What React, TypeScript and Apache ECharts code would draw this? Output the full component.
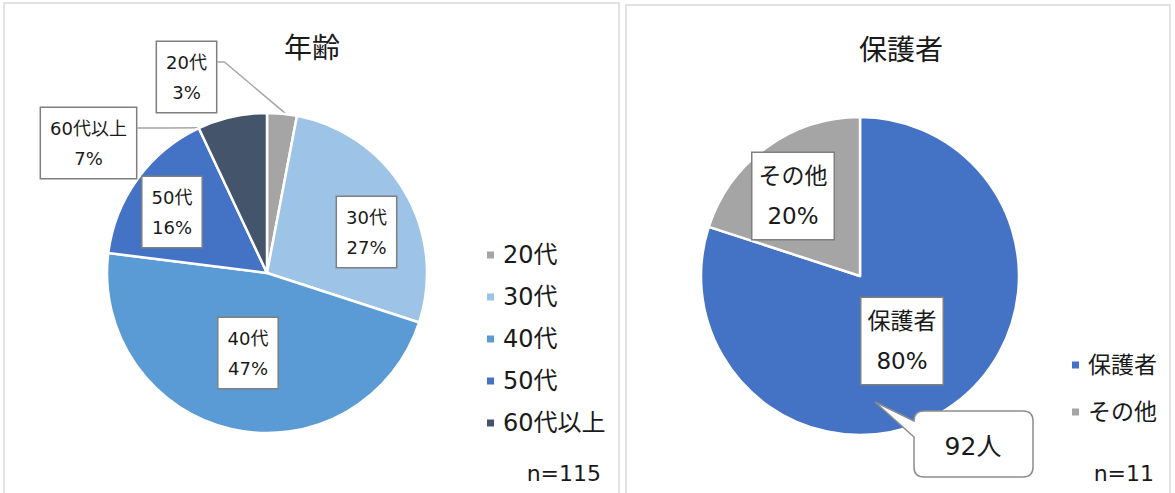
import React, { useEffect, useRef } from "react";
import * as echarts from "echarts";

// ---------- data ----------
const ageCategories = ["20代", "30代", "40代", "50代", "60代以上"];
const agePercents = [3, 27, 47, 16, 7];
const guardianCategories = ["保護者", "その他"];
const guardianPercents = [80, 20];

const ageTitle = "年齢";
const guardianTitle = "保護者";
const ageSampleText = "n=115";
const guardianSampleText = "n=11";
const calloutText = "92人";

// ---------- styles / layout ----------
const ageColors = ["#a5a5a5", "#9dc3e6", "#5b9bd5", "#4472c4", "#44546a"];
const guardianColors = ["#4472c4", "#a5a5a5"];
const FONT = "'DejaVu Sans', 'Noto Sans CJK JP', sans-serif";
const TEXT = "#1a1a1a";
const AGE_CENTER = [267, 273];
const AGE_R = 160;
const GU_CENTER = [860, 276];
const GU_R = 159;
const ageLabelPos = [
  [186.5, 77],
  [366.5, 232],
  [248, 353],
  [172, 212],
  [88.5, 143],
];
const ageOutside = [true, false, false, false, true];
const guardianLabelPos = [
  [902, 341],
  [793, 196],
];

const CALLOUT_D =
  "M49 9 L148 9 Q158 9 158 19 L158 65 Q158 75 148 75 L49 75 Q39 75 39 65 L39 35 L0 0 L39 19 Q39 9 49 9 Z";
echarts.graphic.registerShape("callout", echarts.graphic.extendPath(CALLOUT_D, {}) as any);

function polar(c: number[], r: number, deg: number): number[] {
  const a = (deg * Math.PI) / 180;
  return [c[0] + r * Math.sin(a), c[1] - r * Math.cos(a)];
}

function sliceAngles(values: number[]): number[][] {
  const total = values.reduce((a, b) => a + b, 0);
  let acc = 0;
  return values.map((v) => {
    const s = (acc / total) * 360;
    acc += v;
    return [s, (acc / total) * 360];
  });
}

export default function App() {
  const ref = useRef<HTMLDivElement>(null);

  useEffect(() => {
    if (!ref.current) return;
    const chart = echarts.init(ref.current, undefined, { renderer: "svg" });
    const ageAngles = sliceAngles(agePercents);

    const labelBase = {
      show: true,
      formatter: (p: any) => `${p.name}\n${Math.round(p.percent)}%`,
      fontFamily: FONT,
      color: TEXT,
      backgroundColor: "#ffffff",
      borderColor: "#7f7f7f",
      borderWidth: 1.5,
    };

    const option: any = {
      animation: false,
      backgroundColor: "#ffffff",
      legend: [
        {
          orient: "vertical",
          left: 485,
          top: 243,
          padding: 0,
          itemWidth: 9,
          itemHeight: 9,
          itemGap: 18,
          icon: "rect",
          selectedMode: false,
          data: ageCategories,
          textStyle: {
            fontFamily: FONT,
            fontSize: 24,
            lineHeight: 24,
            color: TEXT,
            padding: [0, 0, 0, 3],
          },
        },
        {
          orient: "vertical",
          left: 1070,
          top: 353,
          padding: 0,
          itemWidth: 9,
          itemHeight: 9,
          itemGap: 23,
          icon: "rect",
          selectedMode: false,
          data: guardianCategories,
          textStyle: {
            fontFamily: FONT,
            fontSize: 23,
            lineHeight: 24,
            color: TEXT,
            padding: [0, 0, 0, 3],
          },
        },
      ],
      series: [
        {
          type: "pie",
          silent: true,
          center: AGE_CENTER,
          radius: AGE_R,
          startAngle: 90,
          clockwise: true,
          avoidLabelOverlap: false,
          itemStyle: { borderColor: "#ffffff", borderWidth: 2.5 },
          label: {
            ...labelBase,
            fontSize: 18,
            lineHeight: 30,
            padding: [5, 9, 5, 9],
          },
          labelLine: { show: false },
          labelLayout: (p: any) => {
            const i = p.dataIndex;
            const [x, y] = ageLabelPos[i];
            const out: any = { x, y, align: "center", verticalAlign: "middle" };
            if (ageOutside[i]) {
              const startX = x + p.labelRect.width / 2;
              const lineY = y - 15;
              const [s, e] = ageAngles[i];
              if (i === 0) {
                const tip = polar(AGE_CENTER, AGE_R, (s + e) / 2 + 1.5);
                out.labelLinePoints = [[startX, lineY], [startX + 7, lineY], tip];
              } else {
                const tip = polar(AGE_CENTER, AGE_R, s + 0.3);
                out.labelLinePoints = [[startX, lineY], [(startX + tip[0]) / 2, lineY], tip];
              }
            }
            return out;
          },
          data: ageCategories.map((name, i) => ({
            name,
            value: agePercents[i],
            itemStyle: { color: ageColors[i] },
            label: { position: ageOutside[i] ? "outside" : "inside" },
            labelLine: ageOutside[i]
              ? { show: true, length: 10, length2: 10, lineStyle: { color: "#a6a6a6", width: 1.5 } }
              : { show: false },
          })),
        },
        {
          type: "pie",
          silent: true,
          center: GU_CENTER,
          radius: GU_R,
          startAngle: 90,
          clockwise: true,
          avoidLabelOverlap: false,
          itemStyle: { borderColor: "#ffffff", borderWidth: 2.5 },
          label: {
            ...labelBase,
            position: "inside",
            fontSize: 23,
            lineHeight: 40,
            padding: [3, 6, 3, 6],
          },
          labelLine: { show: false },
          labelLayout: (p: any) => {
            const [x, y] = guardianLabelPos[p.dataIndex];
            return { x, y, align: "center", verticalAlign: "middle" };
          },
          data: guardianCategories.map((name, i) => ({
            name,
            value: guardianPercents[i],
            itemStyle: { color: guardianColors[i] },
          })),
        },
      ],
      graphic: [
        {
          type: "rect",
          z: 0,
          shape: { x: 4, y: 3, width: 615, height: 510 },
          style: { fill: "none", stroke: "#d9d9d9", lineWidth: 1.5 },
        },
        {
          type: "rect",
          z: 0,
          shape: { x: 626, y: 5, width: 544, height: 510 },
          style: { fill: "none", stroke: "#d9d9d9", lineWidth: 1.5 },
        },
        {
          type: "text",
          x: 312,
          y: 48,
          style: {
            text: ageTitle,
            fontFamily: FONT,
            fontSize: 28,
            fill: TEXT,
            align: "center",
            verticalAlign: "middle",
          },
        },
        {
          type: "text",
          x: 901,
          y: 50,
          style: {
            text: guardianTitle,
            fontFamily: FONT,
            fontSize: 28,
            fill: TEXT,
            align: "center",
            verticalAlign: "middle",
          },
        },
        {
          type: "text",
          x: 601,
          y: 473,
          style: {
            text: ageSampleText,
            fontFamily: FONT,
            fontSize: 22,
            fill: TEXT,
            align: "right",
            verticalAlign: "middle",
          },
        },
        {
          type: "text",
          x: 1154,
          y: 473,
          style: {
            text: guardianSampleText,
            fontFamily: FONT,
            fontSize: 22,
            fill: TEXT,
            align: "right",
            verticalAlign: "middle",
          },
        },
        {
          type: "callout",
          z: 100,
          x: 875,
          y: 402,
          style: { fill: "#ffffff", stroke: "#8c8c8c", lineWidth: 1.5 },
        },
        {
          type: "text",
          z: 101,
          x: 973,
          y: 446,
          style: {
            text: calloutText,
            fontFamily: FONT,
            fontSize: 25,
            fill: TEXT,
            align: "center",
            verticalAlign: "middle",
          },
        },
      ],
    };

    chart.setOption(option);
    return () => chart.dispose();
  }, []);

  return (
    <div
      ref={ref}
      style={{ position: "absolute", left: 0, top: 0, width: 1175, height: 493 }}
    />
  );
}
